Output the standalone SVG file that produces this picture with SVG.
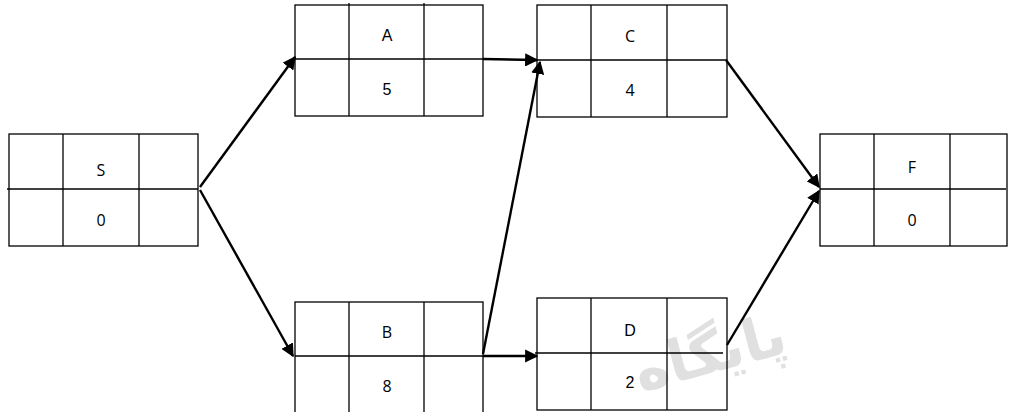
<svg xmlns="http://www.w3.org/2000/svg" width="1009" height="412" viewBox="0 0 1009 412">
<style>
.box{fill:none;stroke:#000;stroke-width:1.3}
.t{font-family:"Open Sans","Liberation Sans",sans-serif;font-size:16px;text-anchor:middle;fill:#000}
.a{font-family:"Liberation Sans",Arial,sans-serif;font-size:16px;text-anchor:middle;fill:#000}
.c{stroke:#000;stroke-width:2.4;fill:none;marker-end:url(#ah)}
</style>
<defs>
<marker id="ah" viewBox="0 0 10 10" refX="9" refY="5" markerWidth="5.5" markerHeight="5.5" markerUnits="strokeWidth" orient="auto">
<path d="M0,0 L10,5 L0,10 z" fill="#000"/>
</marker>
</defs>
<rect width="1009" height="412" fill="#fff"/>
<text x="715" y="372" transform="rotate(-15 715 372)" font-family="DejaVu Sans,sans-serif" font-size="58" font-weight="bold" fill="#e0e0e0" text-anchor="middle">پایگاه</text>
<g id="node-S">
<rect class="box" x="9" y="134" width="189" height="112"/>
<line class="box" x1="7" y1="189" x2="198" y2="189"/>
<line class="box" x1="63" y1="134" x2="63" y2="246"/>
<line class="box" x1="139" y1="134" x2="139" y2="246"/>
<text class="t" x="101" y="176">S</text>
<text class="t" x="101" y="226">0</text>
</g>
<g id="node-A">
<rect class="box" x="295" y="5" width="188" height="111"/>
<line class="box" x1="295" y1="59" x2="483" y2="59"/>
<line class="box" x1="349" y1="3" x2="349" y2="116"/>
<line class="box" x1="424" y1="3" x2="424" y2="116"/>
<text class="a" x="387" y="41">A</text>
<text class="a" x="387" y="95">5</text>
</g>
<g id="node-C">
<rect class="box" x="537" y="5" width="190" height="112"/>
<line class="box" x1="537" y1="60" x2="727" y2="60"/>
<line class="box" x1="591" y1="5" x2="591" y2="117"/>
<line class="box" x1="667" y1="5" x2="667" y2="117"/>
<text class="t" x="630" y="42">C</text>
<text class="t" x="630" y="96">4</text>
</g>
<g id="node-F">
<rect class="box" x="820" y="134" width="187" height="112"/>
<line class="box" x1="820" y1="189" x2="1006" y2="189"/>
<line class="box" x1="874" y1="134" x2="874" y2="246"/>
<line class="box" x1="950" y1="134" x2="950" y2="246"/>
<text class="t" x="912" y="173">F</text>
<text class="t" x="912" y="226">0</text>
</g>
<g id="node-B">
<rect class="box" x="295" y="302" width="188" height="120"/>
<line class="box" x1="295" y1="356" x2="483" y2="356"/>
<line class="box" x1="349" y1="302" x2="349" y2="412"/>
<line class="box" x1="424" y1="302" x2="424" y2="412"/>
<text class="t" x="387" y="338">B</text>
<text class="t" x="387" y="392">8</text>
</g>
<g id="node-D">
<rect class="box" x="537" y="298" width="190" height="112"/>
<line class="box" x1="535" y1="353" x2="723" y2="353"/>
<line class="box" x1="591" y1="298" x2="591" y2="410"/>
<line class="box" x1="667" y1="298" x2="667" y2="410"/>
<text class="a" x="630" y="336">D</text>
<text class="a" x="630" y="388">2</text>
</g>
<g id="connectors">
<line class="c" x1="200" y1="187" x2="295" y2="57"/>
<line class="c" x1="200" y1="190" x2="293" y2="356"/>
<line class="c" x1="483" y1="59" x2="537" y2="60"/>
<line class="c" x1="483" y1="354" x2="540" y2="62"/>
<line class="c" x1="483" y1="356" x2="537" y2="356"/>
<line class="c" x1="726" y1="60" x2="819" y2="187"/>
<line class="c" x1="727" y1="345" x2="819" y2="191"/>
</g>
</svg>
